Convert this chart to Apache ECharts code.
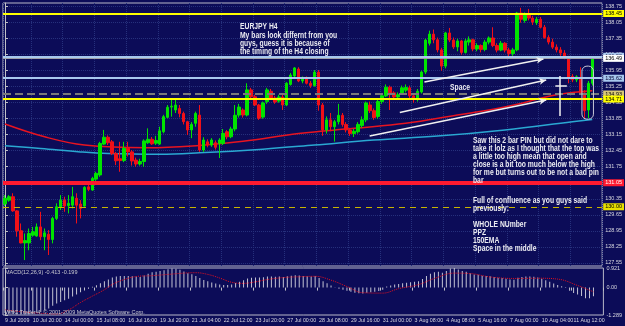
<!DOCTYPE html>
<html>
<head>
<meta charset="utf-8">
<script src="https://cdn.jsdelivr.net/npm/echarts@6.0.0/dist/echarts.min.js"></script>
<style>
html, body { margin: 0; padding: 0; background: #0c0c58; }
#chart { width: 625px; height: 326px; }
</style>
</head>
<body>
<div id="chart"></div>
<script>
// EURJPY H4, 9 Jul - 11 Aug 2009
// candle = [open, close, low, high]
const candles = [
  [130.12, 130.37, 130.03, 130.51], [130.29, 130.44, 130.22, 130.51], [130.44, 129.82, 129.78, 130.59], [129.82, 128.95, 128.69, 129.85], [128.95, 128.42, 128.40, 129.27],
  [128.42, 128.52, 127.67, 128.83], [128.42, 128.83, 128.10, 129.05], [128.76, 128.91, 128.69, 129.12], [128.72, 129.12, 128.69, 129.27], [129.12, 128.69, 128.54, 129.78],
  [128.69, 128.86, 128.10, 129.05], [128.80, 128.57, 127.89, 128.98], [128.57, 129.49, 128.40, 129.56], [129.49, 130.00, 129.42, 130.15], [129.97, 130.29, 129.86, 130.51],
  [130.29, 130.03, 129.78, 130.44], [130.05, 130.15, 129.71, 130.51], [130.07, 130.44, 129.93, 130.87], [130.37, 130.07, 129.27, 130.59], [130.12, 129.93, 129.49, 130.29],
  [130.03, 130.85, 130.00, 130.90], [130.87, 130.76, 130.68, 130.95], [130.73, 131.24, 130.70, 131.31], [131.21, 131.46, 131.12, 131.53], [131.39, 132.77, 131.31, 132.84],
  [132.74, 133.04, 132.70, 133.36], [133.04, 132.80, 132.70, 133.12], [132.84, 132.33, 132.26, 132.92], [132.33, 132.01, 131.82, 132.40], [132.10, 132.02, 131.53, 132.84],
  [132.02, 132.56, 131.95, 132.84], [132.56, 132.40, 132.20, 132.84], [132.40, 132.00, 131.80, 132.48], [132.04, 131.87, 131.75, 132.15], [131.87, 131.98, 131.80, 132.10],
  [131.98, 132.88, 131.75, 132.95], [132.80, 132.95, 132.75, 133.43], [132.95, 132.75, 132.70, 133.05], [132.78, 132.90, 132.70, 133.10], [132.74, 133.32, 132.70, 133.50],
  [133.28, 133.94, 133.21, 134.02], [133.91, 134.35, 133.87, 134.45], [134.36, 134.40, 133.94, 134.67], [134.23, 134.45, 134.10, 134.67], [134.30, 134.08, 133.91, 134.45],
  [134.08, 133.72, 133.60, 134.16], [133.72, 133.36, 133.14, 133.76], [133.36, 133.60, 133.00, 133.70], [133.65, 134.08, 133.50, 134.16], [134.01, 132.48, 132.40, 134.45],
  [132.48, 132.92, 132.40, 133.04], [132.84, 132.70, 132.60, 132.95], [132.70, 132.92, 132.62, 133.00], [132.80, 132.60, 132.50, 132.90], [132.77, 132.92, 132.13, 133.00],
  [132.77, 133.21, 132.70, 133.40], [133.28, 133.06, 132.95, 133.35], [133.06, 133.40, 133.00, 133.50], [133.40, 134.00, 133.30, 134.45], [134.01, 134.36, 133.90, 134.50],
  [134.23, 134.01, 133.90, 134.30], [134.01, 135.11, 133.95, 135.40], [135.11, 134.81, 134.75, 135.20], [134.81, 134.45, 134.40, 134.90], [134.45, 133.87, 133.80, 134.50],
  [133.92, 134.54, 133.85, 134.60], [134.60, 135.11, 134.50, 135.20], [135.05, 134.76, 134.70, 135.15], [134.76, 134.58, 134.50, 134.85], [134.62, 134.80, 134.55, 134.90],
  [134.80, 134.45, 134.23, 134.90], [134.45, 135.40, 134.40, 135.45], [135.35, 135.76, 135.30, 135.85], [135.72, 136.07, 135.65, 136.11], [136.02, 135.50, 135.45, 136.10],
  [135.50, 135.60, 135.40, 135.70], [135.60, 135.40, 135.35, 135.70], [135.40, 135.30, 135.20, 135.50], [135.30, 135.89, 135.25, 135.98], [135.89, 134.45, 134.20, 135.98],
  [134.45, 133.36, 133.10, 134.54], [133.36, 133.80, 133.20, 133.95], [133.80, 133.50, 133.30, 134.10], [133.50, 133.72, 132.85, 133.80], [133.72, 134.00, 133.60, 134.50],
  [134.00, 133.60, 133.50, 134.10], [133.60, 133.36, 133.25, 133.70], [133.36, 133.20, 133.10, 133.45], [133.20, 133.30, 133.05, 133.40], [133.28, 133.60, 133.20, 133.70],
  [133.55, 133.80, 133.45, 133.95], [133.80, 134.54, 133.70, 134.60], [134.45, 134.20, 134.10, 134.60], [134.20, 133.90, 133.80, 134.30], [133.95, 134.60, 133.85, 134.70],
  [134.60, 134.85, 134.50, 134.95], [134.85, 135.23, 134.80, 135.35], [135.23, 134.98, 134.23, 135.30], [134.98, 134.80, 134.70, 135.05], [134.80, 134.90, 134.70, 135.00],
  [134.98, 135.20, 134.90, 135.30], [135.10, 135.22, 135.00, 135.35], [135.20, 134.85, 134.75, 135.30], [134.85, 134.70, 134.55, 134.95], [134.70, 135.05, 134.60, 135.15],
  [135.02, 135.89, 134.95, 135.95], [135.89, 137.29, 135.80, 137.35], [137.15, 137.55, 137.05, 137.70], [137.55, 137.30, 137.15, 137.75], [137.30, 136.86, 136.75, 137.40],
  [136.86, 136.15, 135.95, 136.95], [136.15, 137.60, 136.05, 137.65], [137.60, 137.29, 137.20, 137.82], [137.29, 136.99, 136.90, 137.40], [136.99, 137.25, 136.80, 137.35],
  [137.25, 136.75, 136.65, 137.30], [136.75, 137.25, 136.70, 137.35], [137.20, 137.30, 137.05, 137.45], [137.30, 136.90, 136.80, 137.35], [136.90, 137.05, 136.80, 137.15],
  [137.05, 136.88, 136.75, 137.10], [136.88, 137.20, 136.80, 137.30], [137.20, 137.38, 137.10, 137.45], [137.38, 137.05, 136.98, 137.85], [137.05, 136.85, 136.75, 137.15],
  [136.85, 137.15, 136.80, 137.25], [137.15, 136.85, 136.75, 137.20], [136.85, 136.70, 136.55, 136.95], [136.70, 136.86, 136.60, 136.95], [136.86, 138.47, 136.80, 138.52],
  [138.47, 138.20, 138.05, 138.70], [138.15, 138.45, 138.05, 138.50], [138.45, 138.25, 138.15, 138.65], [138.25, 138.08, 137.95, 138.35], [138.05, 138.20, 137.95, 138.30],
  [138.20, 137.85, 137.80, 138.30], [137.85, 137.40, 137.35, 137.95], [137.40, 137.20, 137.10, 137.50], [137.20, 136.98, 136.90, 137.35], [136.98, 136.86, 136.75, 137.10],
  [136.86, 136.72, 136.60, 136.98], [136.72, 136.55, 136.45, 136.85], [136.55, 135.63, 135.40, 136.60], [135.70, 135.55, 135.45, 135.80], [135.55, 135.68, 135.45, 135.75],
  [135.65, 134.98, 134.90, 136.10], [134.98, 134.20, 133.85, 135.10], [134.23, 135.40, 133.88, 135.50], [135.40, 136.49, 135.30, 136.52]
];

const tickLabels = ['9 Jul 2009', '10 Jul 20:00', '14 Jul 00:00', '15 Jul 08:00', '16 Jul 16:00', '19 Jul 20:00', '21 Jul 04:00',
  '22 Jul 12:00', '23 Jul 20:00', '27 Jul 00:00', '28 Jul 08:00', '29 Jul 16:00', '31 Jul 00:00', '3 Aug 08:00',
  '4 Aug 08:00', '5 Aug 16:00', '7 Aug 00:00', '10 Aug 04:00', '11 Aug 12:00'];
const tickBars = [0, 7, 15, 23, 31, 39, 47, 55, 63, 71, 79, 87, 95, 103, 111, 119, 127, 135, 143];

const priceTicks = [127.55, 128.25, 128.95, 129.65, 130.35, 131.05, 131.75, 132.45, 133.15,
  133.85, 134.55, 135.25, 135.95, 136.65, 137.35, 138.05, 138.75];

// horizontal objects on the chart (yellow, light blue, dashed, red, dashed yellow, bid)
const levelPrices = [138.45, 136.58, 135.62, 134.93, 134.71, 131.05, 130.00, 136.49];

// moving averages, [bar, price]
const emaRed = [[0, 133.62], [10, 133.06], [20, 132.70], [36, 132.58], [49, 132.68], [60, 132.86], [74, 133.20],
  [88, 133.43], [101, 133.65], [114, 134.01], [122, 134.23], [130, 134.52], [134, 134.70], [139, 134.90], [145, 135.03], [148, 135.07]];
const emaTeal = [[0, 132.67], [9, 132.55], [19, 132.40], [26, 132.33], [39, 132.30], [49, 132.36], [65, 132.52],
  [78, 132.70], [93, 132.92], [109, 133.09], [126, 133.36], [143, 133.72], [148, 133.82]];

// MACD(12,26,9)
const macdMain = [
  -1.20, -1.22, -1.24, -1.26, -1.27, -1.27, -1.26, -1.24, -1.20, -1.15, -1.08, -0.98,
  -0.85, -0.75, -0.68, -0.60, -0.52, -0.42, -0.32, -0.22, -0.14, -0.06,
  0.04, 0.11, 0.20, 0.30, 0.38, 0.48, 0.52, 0.54, 0.55, 0.55,
  0.53, 0.52, 0.50, 0.57, 0.65, 0.72, 0.75, 0.78, 0.82, 0.86,
  0.90, 0.88, 0.84, 0.76, 0.68, 0.63, 0.55, 0.45, 0.36, 0.30,
  0.24, 0.19, 0.15, 0.12, 0.12, 0.14, 0.22, 0.28, 0.35, 0.43,
  0.46, 0.48, 0.47, 0.49, 0.52, 0.52, 0.51, 0.52, 0.50, 0.53,
  0.56, 0.58, 0.57, 0.55, 0.53, 0.52, 0.55, 0.45, 0.30, 0.20,
  0.10, 0.02, -0.05, -0.10, -0.15, -0.20, -0.24, -0.27, -0.28, -0.24,
  -0.22, -0.20, -0.16, -0.10, 0.05, 0.10, 0.14, 0.17, 0.20, 0.23,
  0.25, 0.27, 0.30, 0.40, 0.55, 0.65, 0.72, 0.74, 0.70, 0.78,
  0.90, 0.92, 0.85, 0.78, 0.74, 0.68, 0.62, 0.60, 0.56, 0.54,
  0.53, 0.50, 0.46, 0.45, 0.42, 0.38, 0.37, 0.46, 0.50, 0.52,
  0.52, 0.51, 0.48, 0.42, 0.35, 0.27, 0.19, 0.12, 0.06, -0.02,
  -0.15, -0.25, -0.32, -0.40, -0.50, -0.50, -0.41
];
const macdSignal = [[0, -1.05], [5, -1.15], [10, -1.22], [13, -1.24], [16, -1.05], [19, -0.70], [22, -0.40], [25, -0.10],
  [27, 0.15], [30, 0.38], [33, 0.52], [37, 0.56], [41, 0.62], [45, 0.68], [48, 0.70], [51, 0.62], [54, 0.45], [57, 0.25],
  [60, 0.20], [63, 0.27], [66, 0.38], [70, 0.47], [74, 0.51], [78, 0.53], [82, 0.35], [86, 0.05], [90, -0.24], [95, -0.26],
  [99, -0.05], [104, 0.14], [108, 0.43], [113, 0.68], [117, 0.66], [122, 0.50], [128, 0.43], [134, 0.44], [139, 0.40],
  [144, 0.10], [148, -0.20]];
const macdTicks = [0.921, 0, -1.289];

// hand drawn trend arrows [bar, price] -> [bar, price]
const arrowLines = [
  [[105.7, 135.46], [135.7, 136.46]],
  [[99.5, 134.12], [136.4, 135.54]],
  [[91.9, 133.09], [136.4, 134.67]]
];
const pinMarks = [
  [[139.9, 135.72], [139.9, 133.97]],
  [[138.7, 135.28], [141.6, 135.28]]
];
const pinBox = [[145.4, 136.15], [148.3, 133.83]];

const categories = Array.from({ length: candles.length + 2 }, (_, i) => String(i));
const smallFont = '"Liberation Sans Narrow", "Liberation Sans", sans-serif';

const chart = echarts.init(document.getElementById('chart'));

const levelStyles = [
  { line: { color: '#ffff00', width: 2, type: 'solid' }, bg: '#ffff00', fg: '#000000' },
  { line: { color: '#a8c8ee', width: 2, type: 'solid' }, bg: '#a8c8ee', fg: '#000030' },
  { line: { color: '#a8c8ee', width: 2, type: 'solid' }, bg: '#a8c8ee', fg: '#000030' },
  { line: { color: '#7a7a7a', width: 2, type: [8, 4] }, bg: '#d8c878', fg: '#000000' },
  { line: { color: '#ffff00', width: 2, type: 'solid' }, bg: '#ffff00', fg: '#000000' },
  { line: { color: '#ff1a30', width: 4, type: 'solid' }, bg: '#ff1a30', fg: '#ffffff' },
  { line: { color: '#c8b400', width: 1, type: [6, 5] }, bg: '#e8e000', fg: '#000000' },
  { line: { color: '#a0a0a8', width: 1, type: 'solid' }, bg: '#ffffff', fg: '#000000' }
];

const option = {
  backgroundColor: '#0c0c58',
  animation: false,
  grid: [
    { left: 3, top: 3, width: 604, height: 263, show: true, borderColor: '#b8b8c8', borderWidth: 1 },
    { left: 3, top: 268, width: 604, height: 47, show: true, borderColor: '#b8b8c8', borderWidth: 1 }
  ],
  xAxis: [
    {
      type: 'category', gridIndex: 0, data: categories, boundaryGap: true,
      axisLine: { show: false }, axisTick: { show: false }, axisLabel: { show: false },
      splitLine: { show: true, interval: (i) => tickBars.includes(i), lineStyle: { color: '#26307c', type: 'dotted' } }
    },
    {
      type: 'category', gridIndex: 1, data: categories, boundaryGap: true,
      axisLine: { show: false },
      axisTick: { show: true, interval: (i) => tickBars.includes(i), length: 3, lineStyle: { color: '#c0c0c8' } },
      axisLabel: {
        // every category gets a slot, only the MT4 time stamps carry text
        interval: 0, showMinLabel: true,
        formatter: (v, i) => { const k = tickBars.indexOf(i); return k >= 0 ? tickLabels[k] : ''; },
        align: 'left', color: '#d8d8e0', fontSize: 5.3, fontFamily: smallFont, margin: 3
      },
      splitLine: { show: false }
    },
    { type: 'value', gridIndex: 0, min: -0.5, max: categories.length - 0.5, show: false },
    { type: 'value', gridIndex: 1, min: -0.5, max: categories.length - 0.5, show: false }
  ],
  yAxis: [
    {
      type: 'value', gridIndex: 0, position: 'right', min: 127.41, max: 138.91, scale: true,
      axisLine: { show: true, lineStyle: { color: '#c0c0c8' } },
      axisTick: { show: true, customValues: priceTicks, length: 3, lineStyle: { color: '#c0c0c8' } },
      axisLabel: { customValues: priceTicks, formatter: (v) => v.toFixed(2), color: '#d8d8e0', fontSize: 5.5, fontFamily: smallFont, margin: 3 },
      splitLine: { show: true, lineStyle: { color: '#26307c', type: 'dotted' } }
    },
    {
      type: 'value', gridIndex: 1, position: 'right', min: -1.289, max: 0.921,
      axisLine: { show: true, lineStyle: { color: '#c0c0c8' } },
      axisTick: { show: true, customValues: macdTicks, length: 3, lineStyle: { color: '#c0c0c8' } },
      axisLabel: { customValues: macdTicks, formatter: (v) => (v === 0 ? '0.00' : v.toFixed(3)), color: '#d8d8e0', fontSize: 5.5, fontFamily: smallFont, margin: 3 },
      splitLine: { show: false }
    }
  ],
  series: [
    {
      // horizontal levels with their price boxes on the axis
      type: 'line', xAxisIndex: 2, yAxisIndex: 0, data: [], z: 1,
      markLine: {
        silent: true, symbol: 'none', animation: false,
        data: levelPrices.map((p, k) => ({
          yAxis: p,
          lineStyle: levelStyles[k].line,
          label: {
            show: true, position: 'end', distance: 1, formatter: p.toFixed(2),
            backgroundColor: levelStyles[k].bg, color: levelStyles[k].fg,
            fontSize: 5.5, fontFamily: smallFont, padding: [1, 2, 0, 2]
          }
        }))
      }
    },
    {
      type: 'line', xAxisIndex: 2, yAxisIndex: 0, data: emaRed, smooth: 0.4, symbol: 'none', z: 2,
      lineStyle: { color: '#e81420', width: 1.5 }
    },
    {
      type: 'line', xAxisIndex: 2, yAxisIndex: 0, data: emaTeal, smooth: 0.4, symbol: 'none', z: 2,
      lineStyle: { color: '#2aa8d2', width: 1.5 }
    },
    {
      type: 'candlestick', xAxisIndex: 0, yAxisIndex: 0, data: candles, barWidth: 3, z: 3,
      itemStyle: { color: '#00e400', color0: '#f01018', borderColor: '#00e400', borderColor0: '#f01018', borderWidth: 1 }
    },
    {
      // hand drawn annotations
      type: 'line', xAxisIndex: 2, yAxisIndex: 0, data: [], z: 4,
      markLine: {
        silent: true, animation: false,
        label: { show: false },
        data: [
          ...arrowLines.map((l) => [
            { coord: l[0], symbol: 'none' },
            { coord: l[1], symbol: 'arrow', symbolSize: [5, 7] }
          ]),
          ...pinMarks.map((l) => [{ coord: l[0], symbol: 'none' }, { coord: l[1], symbol: 'none' }])
        ],
        lineStyle: { color: '#f0f0f0', width: 1.5, type: 'solid' }
      }
    },
    {
      type: 'bar', xAxisIndex: 1, yAxisIndex: 1, data: macdMain, barWidth: 1,
      itemStyle: { color: '#c4c4d4' }
    },
    {
      type: 'line', xAxisIndex: 3, yAxisIndex: 1, data: macdSignal, smooth: 0.4, symbol: 'none',
      lineStyle: { color: '#e01020', width: 1, type: 'dotted' }
    }
  ]
};

chart.setOption(option);

// text objects and the rounded box around the pin bar
const noteFont = 'bold 9px "Liberation Sans", Arial, sans-serif';
const note = (x, yTop, text) => ({
  type: 'text', x: x, y: yTop, scaleX: 0.75, silent: true, z: 10,
  style: { text: text, font: noteFont, fill: '#ececf2', lineHeight: 8, verticalAlign: 'top' }
});
const b1 = chart.convertToPixel({ xAxisIndex: 2, yAxisIndex: 0 }, pinBox[0]);
const b2 = chart.convertToPixel({ xAxisIndex: 2, yAxisIndex: 0 }, pinBox[1]);

chart.setOption({
  graphic: [
    note(240, 22.5, 'EURJPY H4'),
    note(240, 32, 'My bars look differnt from you\nguys, guess it is because of\nthe timing of the H4 closing'),
    note(450, 84, 'Space'),
    note(473, 136.7, 'Saw this 2 bar PIN but did not dare to\ntake it lolz as I thought that the top was\na little too high mean that open and\nclose is a bit too much below the high\nfor me but turns out to be not a bad pin\nbar'),
    note(473, 196.7, 'Full of confluence as you guys said\npreviously:\n\nWHOLE NUmber\nPPZ\n150EMA\nSpace in the middle'),
    {
      type: 'text', x: 5, y: 272, silent: true, z: 10,
      style: { text: 'MACD(12,26,9) -0.413 -0.199', font: '5.5px ' + smallFont, fill: '#c8c8d0', verticalAlign: 'middle' }
    },
    {
      type: 'text', x: 5, y: 312, silent: true, z: 10,
      style: { text: 'WHC Trader 4, \u00a9 2001-2009 MetaQuotes Software Corp.', font: '5.5px ' + smallFont, fill: '#c8c8d0', verticalAlign: 'middle' }
    },
    {
      type: 'rect', silent: true, z: 10,
      shape: { x: b1[0], y: b1[1], width: b2[0] - b1[0], height: b2[1] - b1[1], r: 5 },
      style: { fill: 'none', stroke: '#c8c8d8', lineWidth: 1 }
    }
  ]
});
</script>
</body>
</html>
